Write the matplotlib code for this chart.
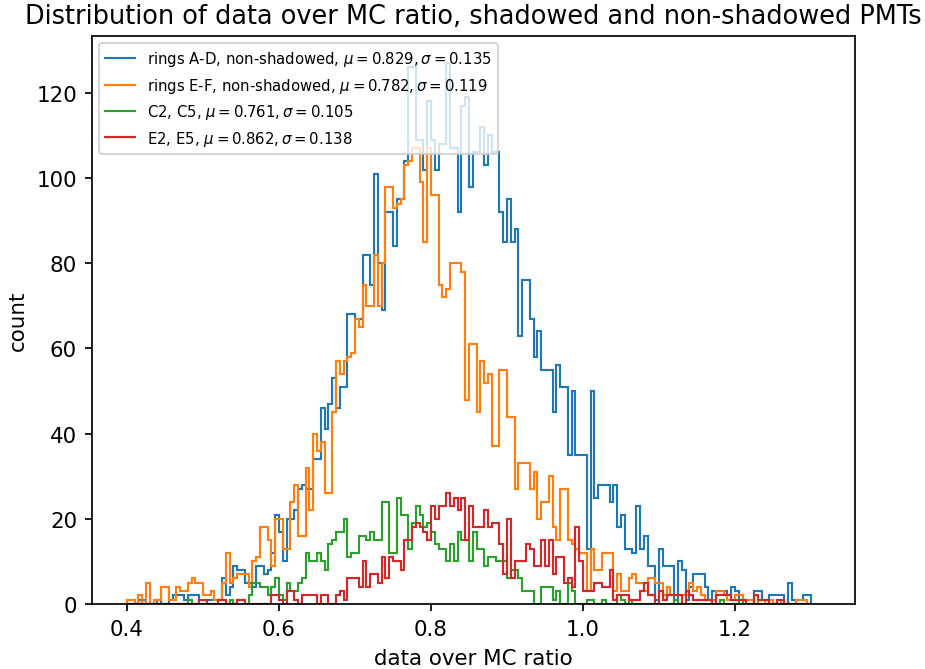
import numpy as np
import matplotlib
matplotlib.use("Agg")
import matplotlib.pyplot as plt

# --- histogram binning (0.005 wide bins, 0.40 .. 1.30) ---
edges = np.linspace(0.40, 1.30, 181)

# --- counts per bin ---
rings_ad = [
    0, 0, 0, 1, 1, 0, 0, 0, 1, 0,
    0, 1, 2, 2, 2, 1, 2, 2, 2, 1,
    1, 1, 1, 1, 1, 6, 2, 4, 9, 8,
    8, 5, 5, 4, 9, 9, 7, 8, 12, 21,
    17, 10, 20, 20, 22, 27, 28, 27, 27, 34,
    34, 46, 41, 47, 53, 46, 51, 51, 68, 68,
    67, 67, 82, 82, 75, 101, 80, 69, 92, 92,
    84, 95, 95, 104, 126, 126, 109, 109, 102, 118,
    109, 102, 108, 108, 127, 107, 107, 92, 117, 119,
    98, 106, 106, 112, 103, 110, 106, 106, 92, 85,
    95, 85, 88, 63, 76, 76, 67, 58, 64, 55,
    55, 55, 45, 56, 51, 51, 35, 50, 35, 35,
    35, 13, 50, 25, 28, 28, 28, 24, 28, 18,
    21, 13, 13, 12, 23, 13, 16, 9, 9, 1,
    13, 9, 9, 9, 1, 10, 8, 1, 4, 7,
    7, 7, 4, 1, 3, 3, 3, 3, 2, 4,
    3, 1, 1, 1, 1, 3, 3, 1, 1, 2,
    2, 2, 2, 0, 5, 1, 1, 1, 2, 2,
]
rings_ef = [
    1, 1, 0, 2, 0, 5, 0, 1, 1, 4,
    4, 1, 1, 4, 3, 3, 5, 6, 5, 5,
    2, 2, 3, 1, 1, 5, 12, 5, 6, 7,
    7, 7, 4, 10, 11, 18, 18, 15, 9, 20,
    20, 13, 13, 24, 28, 16, 16, 32, 22, 40,
    36, 38, 26, 26, 45, 57, 54, 57, 58, 59,
    67, 65, 75, 70, 70, 82, 70, 80, 98, 98,
    93, 94, 95, 103, 104, 107, 107, 99, 85, 107,
    96, 96, 75, 72, 74, 80, 80, 80, 78, 48,
    61, 61, 45, 57, 52, 54, 37, 37, 55, 55,
    44, 44, 27, 33, 33, 33, 27, 31, 20, 24,
    24, 30, 18, 15, 27, 27, 15, 14, 13, 12,
    12, 3, 13, 8, 8, 12, 12, 12, 3, 7,
    3, 3, 6, 7, 5, 5, 3, 6, 6, 5,
    5, 2, 4, 2, 2, 2, 2, 3, 5, 3,
    4, 2, 1, 1, 1, 3, 3, 2, 1, 1,
    2, 2, 1, 1, 1, 0, 1, 1, 0, 1,
    0, 1, 0, 0, 0, 0, 1, 1, 1, 0,
]
c2_c5 = [
    0, 0, 0, 0, 0, 0, 0, 0, 0, 0,
    0, 0, 0, 0, 0, 0, 1, 0, 0, 0,
    0, 0, 0, 0, 0, 0, 0, 1, 0, 1,
    1, 0, 2, 5, 5, 4, 4, 2, 4, 6,
    2, 1, 5, 3, 3, 5, 6, 12, 10, 10,
    12, 10, 8, 14, 15, 17, 17, 20, 11, 12,
    12, 16, 16, 15, 17, 15, 15, 24, 24, 12,
    12, 25, 21, 21, 13, 19, 23, 21, 18, 19,
    17, 14, 13, 13, 10, 14, 10, 17, 15, 15,
    10, 17, 13, 13, 9, 11, 11, 10, 10, 10,
    6, 8, 8, 6, 3, 3, 3, 0, 0, 4,
    4, 4, 1, 3, 0, 0, 5, 3, 0, 0,
    0, 1, 1, 0, 0, 1, 0, 0, 0, 2,
    1, 0, 1, 0, 0, 0, 0, 0, 0, 0,
    0, 0, 0, 0, 1, 0, 0, 0, 0, 0,
    0, 0, 0, 0, 0, 0, 1, 0, 0, 0,
    0, 1, 0, 0, 0, 0, 0, 0, 0, 0,
    0, 0, 0, 0, 0, 0, 0, 0, 0, 0,
]
e2_e5 = [
    0, 0, 0, 0, 0, 0, 0, 0, 0, 0,
    0, 0, 0, 0, 0, 0, 0, 0, 0, 1,
    1, 0, 0, 0, 1, 1, 0, 0, 0, 1,
    1, 0, 0, 0, 0, 0, 0, 0, 2, 2,
    1, 0, 3, 3, 1, 0, 2, 2, 2, 2,
    0, 2, 2, 0, 0, 2, 3, 1, 6, 6,
    6, 4, 10, 4, 7, 7, 5, 11, 6, 11,
    10, 10, 8, 15, 15, 18, 19, 18, 17, 15,
    23, 20, 23, 23, 26, 23, 25, 22, 25, 15,
    23, 18, 18, 18, 22, 18, 19, 19, 14, 7,
    20, 6, 10, 10, 10, 14, 13, 9, 9, 15,
    9, 15, 7, 11, 11, 5, 6, 4, 18, 10,
    3, 3, 3, 5, 5, 4, 4, 8, 1, 2,
    2, 2, 1, 1, 1, 3, 5, 2, 2, 0,
    3, 1, 2, 2, 2, 2, 0, 3, 2, 1,
    1, 1, 1, 1, 0, 2, 2, 2, 2, 1,
    1, 1, 1, 0, 0, 2, 1, 1, 1, 0,
    0, 1, 1, 0, 0, 0, 0, 0, 0, 0,
]

labels = [
    r"rings A-D, non-shadowed, $\mu=0.829, \sigma=0.135$",
    r"rings E-F, non-shadowed, $\mu=0.782, \sigma=0.119$",
    r"C2, C5, $\mu=0.761, \sigma=0.105$",
    r"E2, E5, $\mu=0.862, \sigma=0.138$",
]

# --- Plotting ---
dpi = 154
fig = plt.figure(figsize=(925 / dpi, 670 / dpi), dpi=dpi)
ax = fig.add_axes([92 / 925, 65 / 670, 763 / 925, 568 / 670])

for counts, lab in zip([rings_ad, rings_ef, c2_c5, e2_e5], labels):
    ax.stairs(counts, edges, label=lab)

ax.set_xlim(0.354, 1.358)
ax.set_ylim(0, 133.35)
ax.set_xlabel("data over MC ratio")
ax.set_ylabel("count")
ax.set_title("Distribution of data over MC ratio, shadowed and non-shadowed PMTs")
ax.legend(loc="upper left", fontsize="x-small")

fig.savefig("out.png", dpi=dpi)
